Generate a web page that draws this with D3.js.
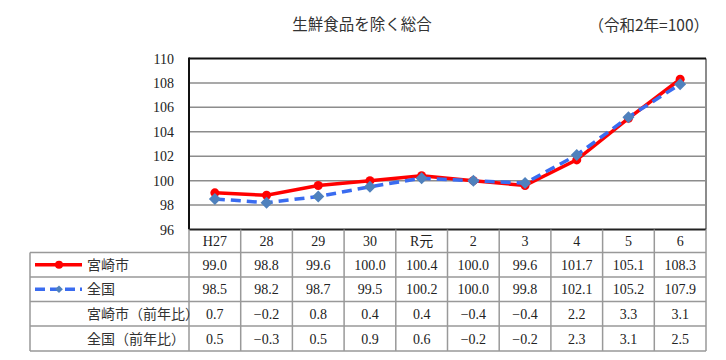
<!DOCTYPE html>
<html><head><meta charset="utf-8">
<script src="https://cdn.jsdelivr.net/npm/d3@7"></script>
<style>
body{margin:0;background:#fff;}
</style></head>
<body><svg id="c" width="726" height="360"></svg>
<script>
const categories = ["H27","28","29","30","R元","2","3","4","5","6"];
const miyazaki = [99.0,98.8,99.6,100.0,100.4,100.0,99.6,101.7,105.1,108.3];
const zenkoku = [98.5,98.2,98.7,99.5,100.2,100.0,99.8,102.1,105.2,107.9];
const miyazakiYoY = [0.7,-0.2,0.8,0.4,0.4,-0.4,-0.4,2.2,3.3,3.1];
const zenkokuYoY = [0.5,-0.3,0.5,0.9,0.6,-0.2,-0.2,2.3,3.1,2.5];
const yTicks = [96,98,100,102,104,106,108,110];
const title = "生鮮食品を除く総合";
const note = "（令和2年=100）";
const rowLabels = ["宮崎市","全国","宮崎市（前年比）","全国（前年比）"];

const SERIF = "'Liberation Serif','DejaVu Serif','Noto Sans CJK JP',serif";
const JP = "'Noto Sans CJK JP',sans-serif";
const svg = d3.select("#c");
const L=189, R=706, T=58.5, B=229.5;
const x = d3.scaleBand().domain(categories).range([L,R]);
const y = d3.scaleLinear().domain([96,110]).range([B,T]);

svg.append("text").style("font-family",JP).attr("x",362).attr("y",30).attr("text-anchor","middle")
  .attr("font-size",15.5).attr("fill","#333").text(title);
svg.append("text").style("font-family",JP).attr("x",709).attr("y",31).attr("text-anchor","end")
  .attr("font-size",15.5).attr("fill","#333").text(note);

svg.append("g").selectAll("line").data(yTicks.slice(1,-1)).join("line")
  .attr("x1",L).attr("x2",R).attr("y1",d=>y(d)).attr("y2",d=>y(d))
  .attr("stroke","#8c8c8c").attr("stroke-width",1.5);
svg.append("g").selectAll("text").data(yTicks).join("text").style("font-family",SERIF)
  .attr("x",174).attr("y",d=>y(d)+5).attr("text-anchor","end").attr("font-size",14).attr("fill","#222")
  .text(d=>d);
svg.append("line").attr("x1",R).attr("x2",R).attr("y1",T).attr("y2",B).attr("stroke","#8c8c8c").attr("stroke-width",2);
svg.append("line").attr("x1",L).attr("x2",R).attr("y1",T).attr("y2",T).attr("stroke","#111").attr("stroke-width",2);
svg.append("line").attr("x1",L).attr("x2",L).attr("y1",T-1).attr("y2",B).attr("stroke","#111").attr("stroke-width",2);
svg.append("line").attr("x1",L).attr("x2",R).attr("y1",B).attr("y2",B).attr("stroke","#222").attr("stroke-width",2);

const cx = d=>x(d)+x.bandwidth()/2;
const line = d3.line().x((d,i)=>cx(categories[i])).y(d=>y(d));
svg.append("path").datum(miyazaki).attr("d",line).attr("fill","none").attr("stroke","#ff0000").attr("stroke-width",3.5);
svg.append("g").selectAll("circle").data(miyazaki).join("circle")
  .attr("cx",(d,i)=>cx(categories[i])).attr("cy",d=>y(d)).attr("r",4.5).attr("fill","#ff0000");
svg.append("path").datum(zenkoku).attr("d",line).attr("fill","none").attr("stroke","#3a6cf0").attr("stroke-width",3.5)
  .attr("stroke-dasharray","10,6");
const dia = d3.symbol().type(d3.symbolSquare).size(72);
svg.append("g").selectAll("path").data(zenkoku).join("path")
  .attr("d",dia).attr("transform",(d,i)=>`translate(${cx(categories[i])},${y(d)}) rotate(45)`).attr("fill","#4f81bd");

const rowY = [229.5,252.5,277,301.5,326,351];
const tL=30;
const tg = svg.append("g");
const gs = "#999", gw=1.5;
rowY.forEach((yy,i)=>{
  if(i===0) return;
  tg.append("line").attr("x1",tL).attr("x2",R).attr("y1",yy).attr("y2",yy).attr("stroke",gs).attr("stroke-width",gw);
});
tg.append("line").attr("x1",tL).attr("x2",tL).attr("y1",rowY[1]).attr("y2",rowY[5]).attr("stroke",gs).attr("stroke-width",gw);
const vx = categories.map(c=>x(c)).concat([R]);
vx.forEach(v=>{
  tg.append("line").attr("x1",v).attr("x2",v).attr("y1",rowY[0]).attr("y2",rowY[5]).attr("stroke",gs).attr("stroke-width",gw);
});
tg.selectAll("text.h").data(categories).join("text").attr("class","h").style("font-family",SERIF)
  .attr("x",d=>cx(d)).attr("y",(rowY[0]+rowY[1])/2+5).attr("text-anchor","middle").attr("font-size",14).attr("fill","#222")
  .text(d=>d);
const fmt = v => (v<0?"−":"")+Math.abs(v).toFixed(1);
[miyazaki,zenkoku,miyazakiYoY,zenkokuYoY].forEach((arr,r)=>{
  tg.append("g").selectAll("text").data(arr).join("text").style("font-family",SERIF)
    .attr("x",(d,i)=>cx(categories[i])).attr("y",(rowY[r+1]+rowY[r+2])/2+5).attr("text-anchor","middle")
    .attr("font-size",14).attr("fill","#222").text(d=>fmt(d));
  tg.append("text").style("font-family",JP).attr("x",87).attr("y",(rowY[r+1]+rowY[r+2])/2+5)
    .attr("font-size",14).attr("fill","#333").text(rowLabels[r]);
});
const ly1=(rowY[1]+rowY[2])/2, ly2=(rowY[2]+rowY[3])/2;
tg.append("line").attr("x1",35).attr("x2",82).attr("y1",ly1).attr("y2",ly1).attr("stroke","#ff0000").attr("stroke-width",3.5);
tg.append("circle").attr("cx",59).attr("cy",ly1).attr("r",4).attr("fill","#ff0000");
tg.append("line").attr("x1",35).attr("x2",82).attr("y1",ly2).attr("y2",ly2).attr("stroke","#3a6cf0").attr("stroke-width",3.5).attr("stroke-dasharray","10,5");
tg.append("path").attr("d",d3.symbol().type(d3.symbolSquare).size(30)).attr("transform",`translate(59,${ly2}) rotate(45)`).attr("fill","#4f81bd");
</script></body></html>
